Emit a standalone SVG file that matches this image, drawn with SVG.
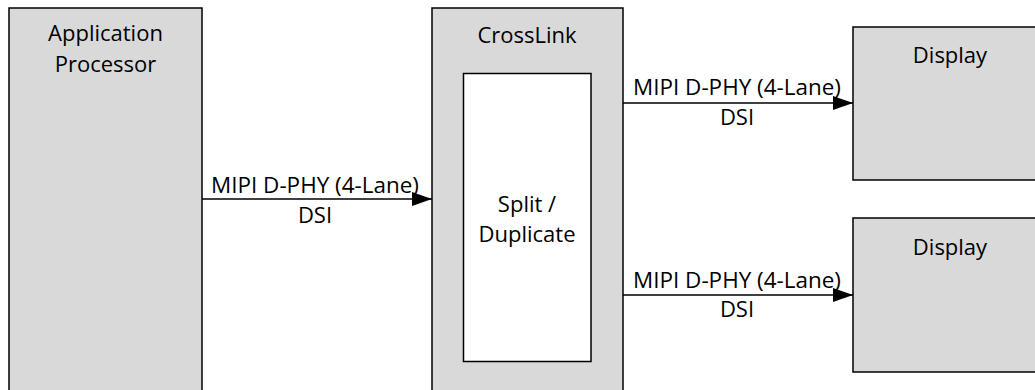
<svg xmlns="http://www.w3.org/2000/svg" width="1035" height="390" viewBox="0 0 1035 390">
<style>
.box{fill:#D9D9D9;stroke:#000;stroke-width:1.5}
.inner{fill:#fff;stroke:#000;stroke-width:1.5}
.t{font-family:"Open Sans","Liberation Sans",sans-serif;font-size:22px;fill:#000;text-anchor:middle}
.c{stroke:#000;stroke-width:1.3;fill:none;marker-end:url(#ah)}
</style>
<defs>
<marker id="ah" markerWidth="20" markerHeight="14" refX="20" refY="7" orient="auto" markerUnits="userSpaceOnUse">
<path d="M0,0 L20,7 L0,14 Z" fill="#000"/>
</marker>
</defs>
<rect width="1035" height="390" fill="#fff"/>
<g id="app">
<rect class="box" x="9" y="8" width="193" height="400"/>
<text class="t" x="105.5" y="41">Application</text>
<text class="t" x="105.5" y="72">Processor</text>
</g>
<g id="crosslink">
<rect class="box" x="432" y="8" width="191" height="400"/>
<text class="t" x="527" y="43">CrossLink</text>
</g>
<g id="split">
<rect class="inner" x="463.5" y="73.5" width="127.5" height="288"/>
<text class="t" x="527" y="212">Split /</text>
<text class="t" x="527" y="242">Duplicate</text>
</g>
<g id="display1">
<rect class="box" x="853" y="27" width="200" height="153"/>
<text class="t" x="950" y="63">Display</text>
</g>
<g id="display2">
<rect class="box" x="853" y="218" width="200" height="154"/>
<text class="t" x="950" y="255">Display</text>
</g>
<g id="connectors">
<line class="c" x1="202" y1="199" x2="432" y2="199"/>
<line class="c" x1="623" y1="103" x2="853" y2="103"/>
<line class="c" x1="623" y1="295" x2="853" y2="295"/>
</g>
<g id="labels">
<text class="t" x="315" y="193" textLength="208" lengthAdjust="spacingAndGlyphs">MIPI D-PHY (4-Lane)</text>
<text class="t" x="315" y="223">DSI</text>
<text class="t" x="737" y="95" textLength="208" lengthAdjust="spacingAndGlyphs">MIPI D-PHY (4-Lane)</text>
<text class="t" x="737" y="125">DSI</text>
<text class="t" x="737" y="288" textLength="208" lengthAdjust="spacingAndGlyphs">MIPI D-PHY (4-Lane)</text>
<text class="t" x="737" y="317">DSI</text>
</g>
</svg>
